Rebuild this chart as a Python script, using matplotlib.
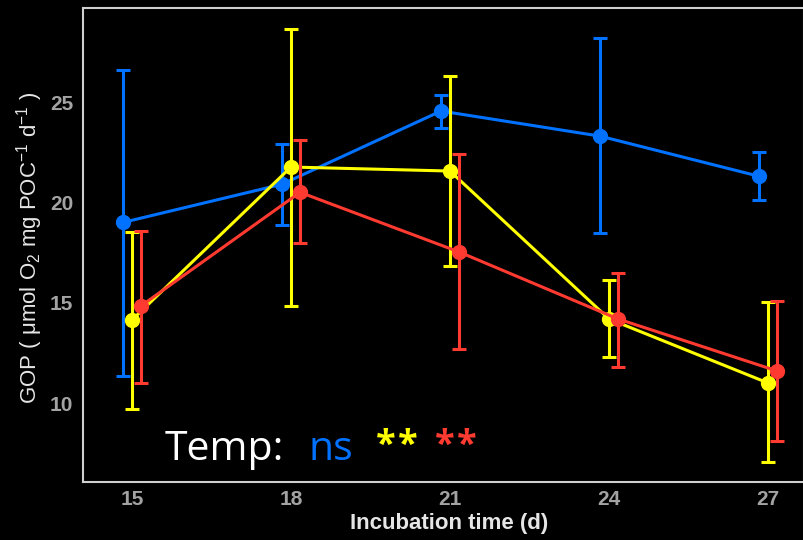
import matplotlib
matplotlib.use("Agg")
import matplotlib.pyplot as plt
import numpy as np

plt.rcParams["font.family"] = ["Liberation Sans", "DejaVu Sans"]
plt.rcParams["mathtext.fontset"] = "custom"
plt.rcParams["mathtext.rm"] = "Liberation Sans"
plt.rcParams["mathtext.it"] = "Liberation Sans:italic"

days = [15, 18, 21, 24, 27]
x_ticks = [15, 18, 21, 24, 27]
y_ticks = [10, 15, 20, 25]

blue_mean = [19.0, 20.9, 24.55, 23.3, 21.3]
blue_hi = [26.6, 22.9, 25.35, 28.2, 22.5]
blue_lo = [11.35, 18.87, 23.7, 18.47, 20.1]

yellow_mean = [14.14, 21.76, 21.56, 14.19, 11.0]
yellow_hi = [18.5, 28.64, 26.3, 16.13, 15.03]
yellow_lo = [9.7, 14.84, 16.83, 12.29, 7.06]

red_mean = [14.84, 20.5, 17.53, 14.19, 11.6]
red_hi = [18.55, 23.1, 22.4, 16.5, 15.08]
red_lo = [11.0, 17.97, 12.7, 11.8, 8.1]

BLUE, YELLOW, RED = "#0072FF", "#FFFF00", "#FF3A30"
series = [
    (blue_mean, blue_lo, blue_hi, BLUE, -0.17),
    (yellow_mean, yellow_lo, yellow_hi, YELLOW, 0.0),
    (red_mean, red_lo, red_hi, RED, 0.17),
]

W, H = 804, 540
fig = plt.figure(figsize=(W/100, H/100), dpi=100, facecolor="black")
ax = fig.add_axes([83/W, 1-482/H, (W-83)/W, (482-8)/H])
ax.set_facecolor("black")

for i, (m, lo, hi, c, off) in enumerate(series):
    x = np.array(days, dtype=float) + off
    m = np.array(m); lo = np.array(lo); hi = np.array(hi)
    ax.errorbar(x, m, yerr=[m - lo, hi - m], fmt="none", ecolor=c,
                elinewidth=2.2, capsize=5, capthick=2.2, zorder=2 + i)
    ax.plot(x, m, color=c, lw=2.2, marker="o", ms=10, mec=c, mfc=c, zorder=2 + i)

ax.set_xlim(15 + (83 - 132) / 53.0, 15 + (W - 132) / 53.0)
ax.set_ylim(25 - (482 - 102) / 20.07, 25 + (102 - 8) / 20.07)
ax.set_xticks(x_ticks)
ax.set_yticks(y_ticks)
ax.set_xticklabels([str(v) for v in x_ticks])
ax.set_yticklabels([str(v) for v in y_ticks])
ax.tick_params(length=0, colors="#A3A3A3", labelsize=15)
ax.tick_params(axis="y", pad=7)
ax.tick_params(axis="x", pad=6)
for lab in ax.get_xticklabels() + ax.get_yticklabels():
    lab.set_fontweight("bold")
for s in ax.spines.values():
    s.set_color("#CFCFCF")
    s.set_linewidth(1.5)

fig.text(449/W, 1-524/H, "Incubation time (d)", color="#E6E6E6", fontsize=16,
         fontweight="bold", ha="center", va="center")
fig.text(30/W, 1-248/H, r"GOP ( $\mathregular{\mu}$mol O$_2$ mg POC$^{-1}$ d$^{-1}$ )",
         color="#E6E6E6", fontsize=16, rotation=90, ha="center", va="center")

fam = ["Open Sans", "DejaVu Sans"]
fig.text(165/W, 1-460/H, "Temp:", color="white", fontsize=29.5, family=fam, va="baseline")
fig.text(309/W, 1-460/H, "ns", color=BLUE, fontsize=29.5, family=fam, va="baseline")
for cx, col in [(386, YELLOW), (408, YELLOW), (445, RED), (467, RED)]:
    fig.text(cx/W, 1-428/H, "*", color=col, fontsize=26, family=fam,
             fontweight="bold", ha="center", va="top")

fig.savefig("out.png", dpi=100, facecolor="black")
